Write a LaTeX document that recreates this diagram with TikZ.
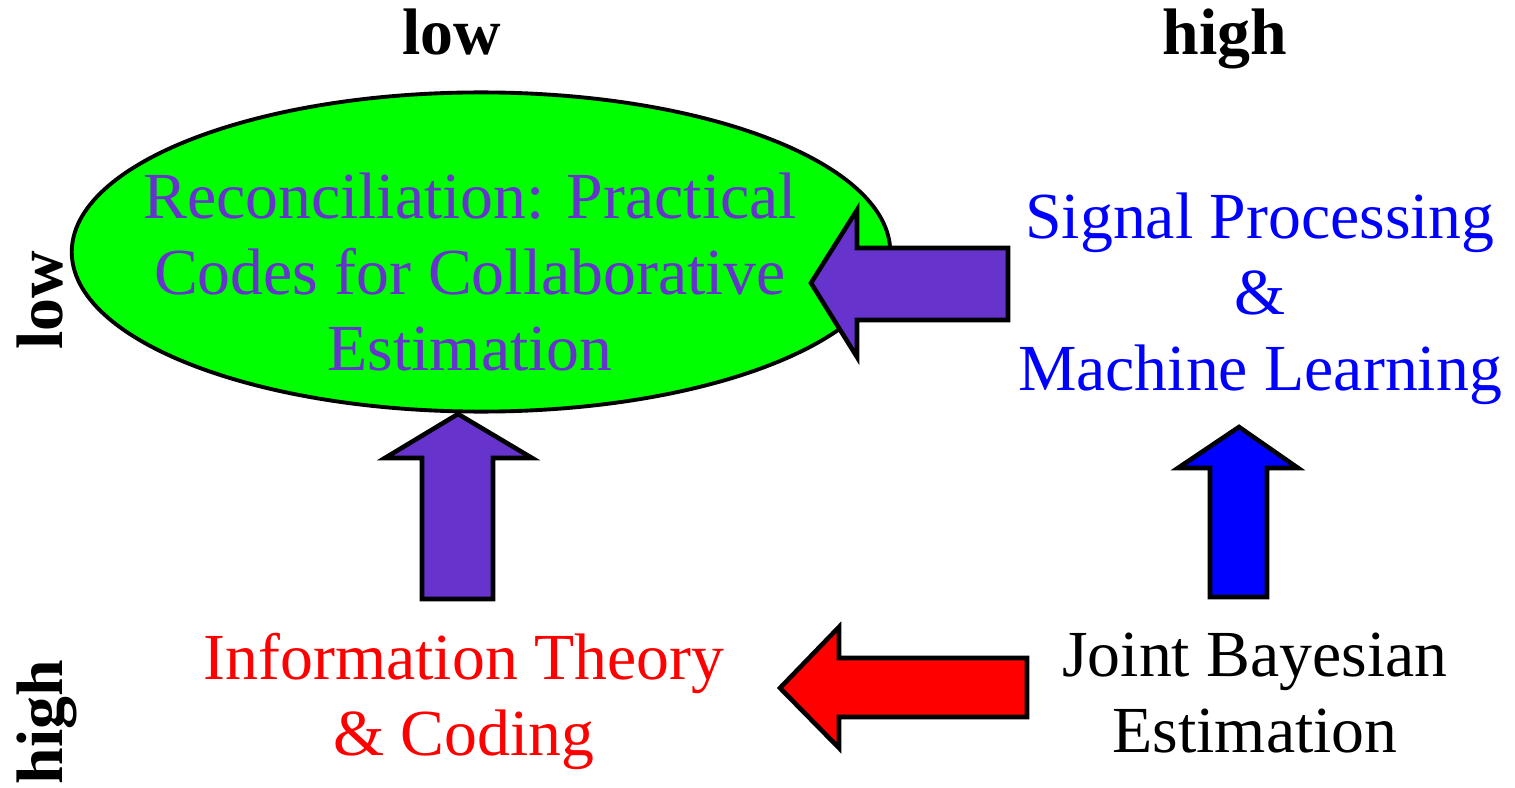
\documentclass[tikz,border=0pt]{standalone}
\usepackage{fontspec}
\setmainfont{Liberation Serif}
\usetikzlibrary{shapes.geometric}
\definecolor{grape}{RGB}{102,51,204}
\definecolor{lime}{RGB}{0,255,0}
\begin{document}
\begin{tikzpicture}[x=0.01cm,y=-0.01cm,
  lbl/.style={font=\fontsize{18.7}{21.6}\selectfont, align=center, anchor=base, inner sep=0pt},
  axislbl/.style={font=\fontsize{18.7}{21.6}\selectfont\bfseries, anchor=base, inner sep=0pt},
  blockarrow/.style={draw=black, line width=1.3pt, line join=miter}]
\useasboundingbox (0,0) rectangle (1515,788);

% central ellipse
\node[ellipse, draw, line width=1.1pt, fill=lime, minimum width=8.18cm,
      minimum height=3.19cm, inner sep=0pt] (recon) at (481,252) {};
% multi-line labels are anchored at the baseline of their last line
\node[lbl, text=grape] (recontext) at (470,370)
  {Reconciliation: Practical\\Codes for Collaborative\\Estimation};

% block arrows
\draw[blockarrow, fill=grape] (1008,248) -- (857,248) -- (857,210) -- (811,283)
  -- (857,357) -- (857,320) -- (1008,320) -- cycle;
\draw[blockarrow, fill=grape] (422,599) -- (422,458) -- (385,458) -- (458,414)
  -- (532,458) -- (493,458) -- (493,599) -- cycle;
\draw[blockarrow, fill=blue] (1210,597) -- (1210,468) -- (1178,468) -- (1239,427)
  -- (1298,468) -- (1267,468) -- (1267,597) -- cycle;
\draw[blockarrow, fill=red] (1027,658) -- (839,658) -- (839,627) -- (780,688)
  -- (839,748) -- (839,717) -- (1027,717) -- cycle;

% quadrant texts
\node[lbl, text=blue] (sigproc) at (1260,390) {Signal Processing\\\&\\Machine Learning};
\node[lbl, text=red] (infotheory) at (464,755) {Information Theory\\\& Coding};
\node[lbl] (bayes) at (1255,752) {Joint Bayesian\\Estimation};

% axis labels
\node[axislbl] (collow) at (452,55) {low};
\node[axislbl] (colhigh) at (1225,55) {high};
\node[axislbl, rotate=90] (rowlow) at (62,300) {low};
\node[axislbl, rotate=90] (rowhigh) at (62,722) {high};
\end{tikzpicture}
\end{document}
